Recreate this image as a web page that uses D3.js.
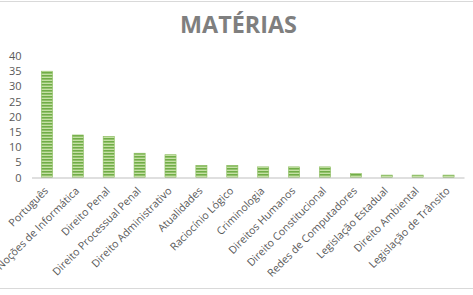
<!DOCTYPE html>
<html>
<head>
<meta charset="utf-8">
<script src="https://cdn.jsdelivr.net/npm/d3@7"></script>
<style>
  body { margin: 0; background: #fff; }
  svg { display: block; }
</style>
</head>
<body>
<script>
const categories = ['Português', 'Noções de Informática', 'Direito Penal', 'Direito Processual Penal',
    'Direito Administrativo', 'Atualidades', 'Raciocínio Lógico', 'Criminologia', 'Direitos Humanos',
    'Direito Constitucional', 'Redes de Computadores', 'Legislação Estadual', 'Direito Ambiental',
    'Legislação de Trânsito'];
const values = [35, 14, 13.5, 8, 7.5, 4, 4, 3.5, 3.5, 3.5, 1.3, 0.8, 0.8, 0.8];
const yTicks = [0, 5, 10, 15, 20, 25, 30, 35, 40];

const width = 473, height = 295;
const margin = { top: 56, right: 9, bottom: 117.5, left: 31.5 };
const font = 'Open Sans, sans-serif';

const svg = d3.select('body').append('svg')
    .attr('width', width)
    .attr('height', height);

// Stripe pattern for bars
const defs = svg.append('defs');
const pat = defs.append('pattern')
    .attr('id', 'stripes')
    .attr('patternUnits', 'userSpaceOnUse')
    .attr('width', 6).attr('height', 3);
pat.append('rect').attr('width', 6).attr('height', 3).attr('fill', '#c5e0a5');
pat.append('rect').attr('width', 6).attr('height', 1.6).attr('fill', '#70ad47');

// chart frame lines
svg.append('line').attr('x1', 0).attr('x2', width).attr('y1', 1.5).attr('y2', 1.5)
    .attr('stroke', '#d9d9d9');
svg.append('line').attr('x1', 0).attr('x2', width).attr('y1', 288.5).attr('y2', 288.5)
    .attr('stroke', '#d9d9d9');

// Title
const title = svg.append('text')
    .attr('x', 238.5).attr('y', 33)
    .attr('text-anchor', 'middle')
    .attr('font-family', font)
    .attr('font-weight', 'bold')
    .attr('font-size', '20px')
    .attr('fill', '#7f7f7f')
    .text('MATÉRIAS');
// stretch title to the reference width (~117px)
const tw = title.node().getComputedTextLength();
title.attr('font-size', (20 * 117 / tw) + 'px');

const x = d3.scaleBand()
    .domain(categories)
    .range([margin.left, width - margin.right])
    .paddingInner(0.64)
    .paddingOuter(0.32);

const y = d3.scaleLinear()
    .domain([0, 40])
    .range([height - margin.bottom, margin.top]);

// Bars
svg.append('g')
    .selectAll('rect')
    .data(values)
    .join('rect')
    .attr('x', (d, i) => x(categories[i]))
    .attr('y', d => y(d))
    .attr('width', x.bandwidth())
    .attr('height', d => y(0) - y(d))
    .attr('fill', 'url(#stripes)')
    .attr('stroke', '#8cbd5f')
    .attr('stroke-width', 0.6);

// Y axis labels
const yAxis = svg.append('g')
    .attr('transform', `translate(${margin.left - 10},0)`)
    .call(d3.axisLeft(y).tickValues(yTicks).tickSize(0).tickPadding(0));
yAxis.select('.domain').remove();
yAxis.selectAll('text')
    .attr('font-family', font)
    .attr('font-size', '11px')
    .attr('fill', '#595959');

// X axis
const xAxis = svg.append('g')
    .attr('transform', `translate(0,${y(0)})`)
    .call(d3.axisBottom(x).tickSize(0).tickPadding(0));
xAxis.select('.domain')
    .attr('stroke', '#bfbfbf')
    .attr('stroke-width', 1.2);
const xt = xAxis.selectAll('text')
    .attr('font-family', font)
    .attr('font-size', '10px')
    .attr('fill', '#595959')
    .attr('text-anchor', 'end')
    .attr('dy', 0)
    .attr('transform', 'translate(2,14) rotate(-45)');
// size labels so "Direito Processual Penal" is ~120px long like the reference
const refLen = xt.filter(d => d === 'Direito Processual Penal').node().getComputedTextLength();
xt.attr('font-size', (10 * 120 / refLen) + 'px');
</script>
</body>
</html>
